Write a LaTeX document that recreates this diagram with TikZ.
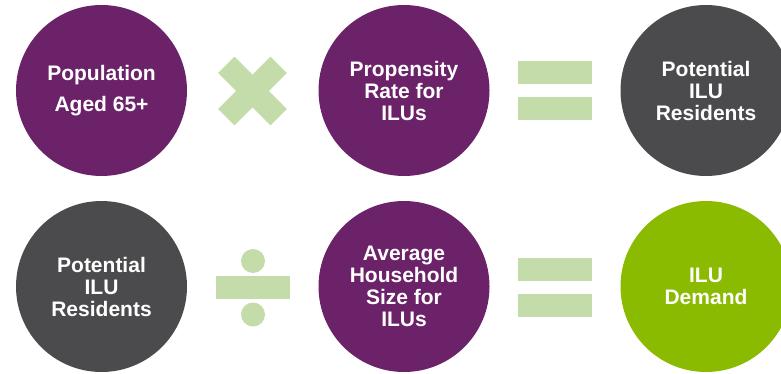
\documentclass[tikz,border=0pt]{standalone}
\usepackage{fontspec}
\setmainfont{Liberation Sans}
\usetikzlibrary{calc}
\definecolor{cpurple}{HTML}{6C2268}
\definecolor{cgrey}{HTML}{4B4B4D}
\definecolor{cgreen}{HTML}{8ABB00}
\definecolor{clight}{HTML}{C4DCAA}
\begin{document}
\begin{tikzpicture}[x=1pt,y=-1pt,
  circ/.style={circle,minimum size=171pt,inner sep=0pt,text=white,align=center,
    font=\fontsize{21pt}{22pt}\selectfont\bfseries},
  opfill/.style={fill=clight,draw=none}]
\useasboundingbox (0,0) rectangle (781,374);
\clip (0,0) rectangle (781,374);
% top row
\node[circ,fill=cpurple] (a1) at (101.5,90.5) {Population\\[9pt]Aged 65+};
\node[circ,fill=cpurple] (a2) at (404,90.5) {Propensity\\Rate for\\ILUs};
\node[circ,fill=cgrey] (a3) at (706,90.5) {Potential\\ILU\\Residents};
% bottom row
\node[circ,fill=cgrey] (b1) at (101.5,286.5) {Potential\\ILU\\Residents};
\node[circ,fill=cpurple] (b2) at (404,286.5) {Average\\Household\\Size for\\ILUs};
\node[circ,fill=cgreen] (b3) at (706,286.5) {ILU\\Demand};
% times sign
\coordinate (times) at (252.5,91);
\fill[opfill,rotate around={45:(times)}] ($(times)+(-37,-11.5)$) rectangle ($(times)+(37,11.5)$);
\fill[opfill,rotate around={-45:(times)}] ($(times)+(-37,-11.5)$) rectangle ($(times)+(37,11.5)$);
% equals top
\fill[opfill] (518,61) rectangle (592,84);
\fill[opfill] (518,97) rectangle (592,120);
% equals bottom
\fill[opfill] (518,258) rectangle (592,281);
\fill[opfill] (518,294) rectangle (592,317);
% divide
\fill[opfill] (216,276) rectangle (290,299);
\fill[opfill] (253,261) circle (12);
\fill[opfill] (253,314.5) circle (12);
\end{tikzpicture}
\end{document}
